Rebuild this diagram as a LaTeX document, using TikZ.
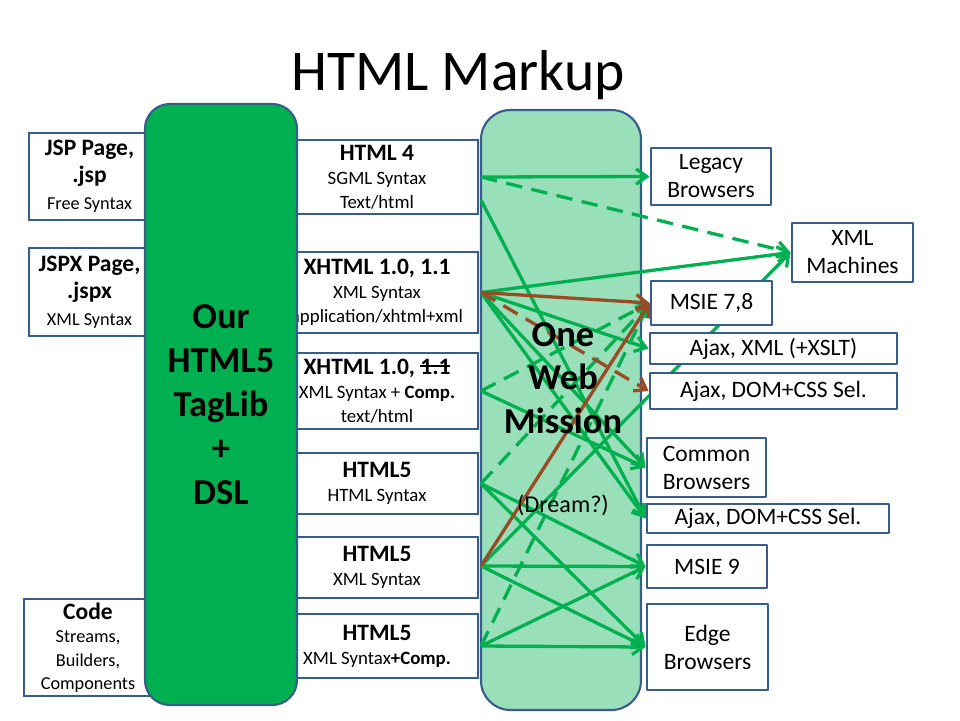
\documentclass[tikz,border=0pt]{standalone}
\usepackage{fontspec}
\setmainfont{Carlito}
\usetikzlibrary{arrows.meta}
\definecolor{boxblue}{HTML}{385D8A}
\definecolor{dgreen}{HTML}{00B050}
\definecolor{lgreen}{HTML}{99DFB9}
\definecolor{brn}{HTML}{984C26}
\def\pxu{0.85pt}
\newcommand{\boxhead}[1]{{\fontsize{20}{20}\selectfont\bfseries #1}}
\newcommand{\strk}[1]{\setbox0\hbox{#1}\rlap{\raisebox{0.33em}{\rule{\wd0}{1.3pt}}}\box0}
\pgfdeclarelayer{back}
\pgfdeclarelayer{links}
\pgfsetlayers{back,links,main}
\begin{document}
\begin{tikzpicture}[x=\pxu, y=-\pxu, line join=round,
    box/.style 2 args={draw=boxblue, line width=2.5pt, fill=white, inner sep=0pt, align=center,
      minimum width=#1*\pxu, minimum height=#2*\pxu},
    col/.style 2 args={draw=boxblue, line width=1.8pt, inner sep=0pt, align=center,
      minimum width=#1*\pxu, minimum height=#2*\pxu},
    midbox/.style={font=\fontsize{16}{20.4}\selectfont},
    sidebox/.style={font=\fontsize{15.5}{23}\selectfont},
    rbox/.style={font=\fontsize{20}{23.8}\selectfont},
    lnk/.style={draw=dgreen, line width=2.8pt, -{Straight Barb[length=9pt,width=13pt]}},
    dlnk/.style={lnk, dash pattern=on 14pt off 8pt},
    blnk/.style={lnk, draw=brn},
    dblnk/.style={blnk, dash pattern=on 14pt off 8pt}]
  \useasboundingbox (0,0) rectangle (960,720);
  \node[font=\fontsize{49}{49}\selectfont] (title) at (458,75) {HTML Markup};
  \begin{pgfonlayer}{back}
  % middle column of markups
  \node[box={202}{74}, midbox] (html4) at (377,177) {\boxhead{HTML 4}\\SGML Syntax\\Text/html};
  \node[box={202}{81}, midbox] (xhtml) at (377,292.5) {\boxhead{XHTML 1.0, 1.1}\\XML Syntax\\application/xhtml+xml};
  \node[box={202}{76}, midbox] (xhtmlc) at (377,391) {\boxhead{XHTML 1.0, \strk{1.1}}\\XML Syntax + \textbf{Comp.}\\text/html};
  \node[box={202}{61}, midbox] (hfhtml) at (377,483.5) {\boxhead{HTML5}\\HTML Syntax};
  \node[box={202}{61}, midbox] (hfxml) at (377,567.5) {\boxhead{HTML5}\\XML Syntax};
  \node[box={202}{64}, midbox] (hfxmlc) at (377,646) {\boxhead{HTML5}\\XML Syntax\textbf{+Comp.}};
  % sources
  \node[box={121}{87}, sidebox] (jsp) at (89.5,176.5) {\boxhead{JSP Page,}\\\boxhead{.jsp}\\Free Syntax};
  \node[box={121}{88}, sidebox] (jspx) at (89.5,292) {\boxhead{JSPX Page,}\\\boxhead{.jspx}\\XML Syntax};
  \node[box={128}{97}, font=\fontsize{15.5}{20}\selectfont] (code) at (88,647.5) {\boxhead{Code}\\Streams,\\Builders,\\Components};
  % the two columns
  \node[col={152}{601}, fill=dgreen, rounded corners=21pt, font=\fontsize{31}{37.4}\selectfont\bfseries] (taglib) at (221,404.5) {Our\\HTML5\\TagLib\\+\\DSL};
  \node[col={160}{600}, fill=lgreen, rounded corners=25pt] (mission) at (561,410) {};
  \end{pgfonlayer}
  \node[font=\fontsize{31}{37}\selectfont\bfseries, align=center] (owm) at (563,378) {One\\Web\\Mission};
  \node[font=\fontsize{20.5}{24}\selectfont] (dream) at (563,505) {(Dream?)};
  \path (481,177) coordinate (pA) (481,200) coordinate (pB) (481,292.5) coordinate (pC)
    (481,391) coordinate (pD) (481,483.5) coordinate (pE) (481,566) coordinate (pF)
    (481,646) coordinate (pG);
  % browsers and machines
  \node[box={120}{57}, rbox] (legacy) at (711,176.5) {Legacy\\Browsers};
  \node[box={121}{59}, rbox] (xmlm) at (852.5,252.5) {XML\\Machines};
  \node[box={121}{44}, rbox] (msie78) at (711.5,303) {MSIE 7,8};
  \node[box={247}{31}, rbox] (ajaxxml) at (773.5,348.5) {Ajax, XML (+XSLT)};
  \node[box={247}{36}, rbox] (ajaxdom) at (773.5,391) {Ajax, DOM+CSS Sel.};
  \node[box={119}{59}, rbox] (common) at (706.5,467.5) {Common\\Browsers};
  \node[box={242}{29}, rbox] (ajaxdomb) at (768,518.5) {Ajax, DOM+CSS Sel.};
  \node[box={120}{43}, rbox] (msie9) at (707,566.5) {MSIE 9};
  \node[box={121}{86}, rbox] (edge) at (707.5,647) {Edge\\Browsers};
  % links
  \begin{pgfonlayer}{links}
  \foreach \a/\b in {pA/legacy, pB/ajaxdomb, pC/xmlm, pC/ajaxxml, pC/common, pC/ajaxdomb,
      pD/common, pE/msie9, pE/edge, pF/xmlm, pF/msie9, pF/edge, pG/msie9, pG/edge}
    \draw[lnk] (\a) -- (\b.west);
  \foreach \a/\b in {pA/xmlm, pD/msie78, pE/msie78, pG/msie78}
    \draw[dlnk] (\a) -- (\b.west);
  \draw[blnk] (pC) -- (msie78.west);
  \draw[blnk] (pF) -- (msie78.west);
  \draw[dblnk] (pC) -- (ajaxdom.west);
  \end{pgfonlayer}
\end{tikzpicture}
\end{document}
